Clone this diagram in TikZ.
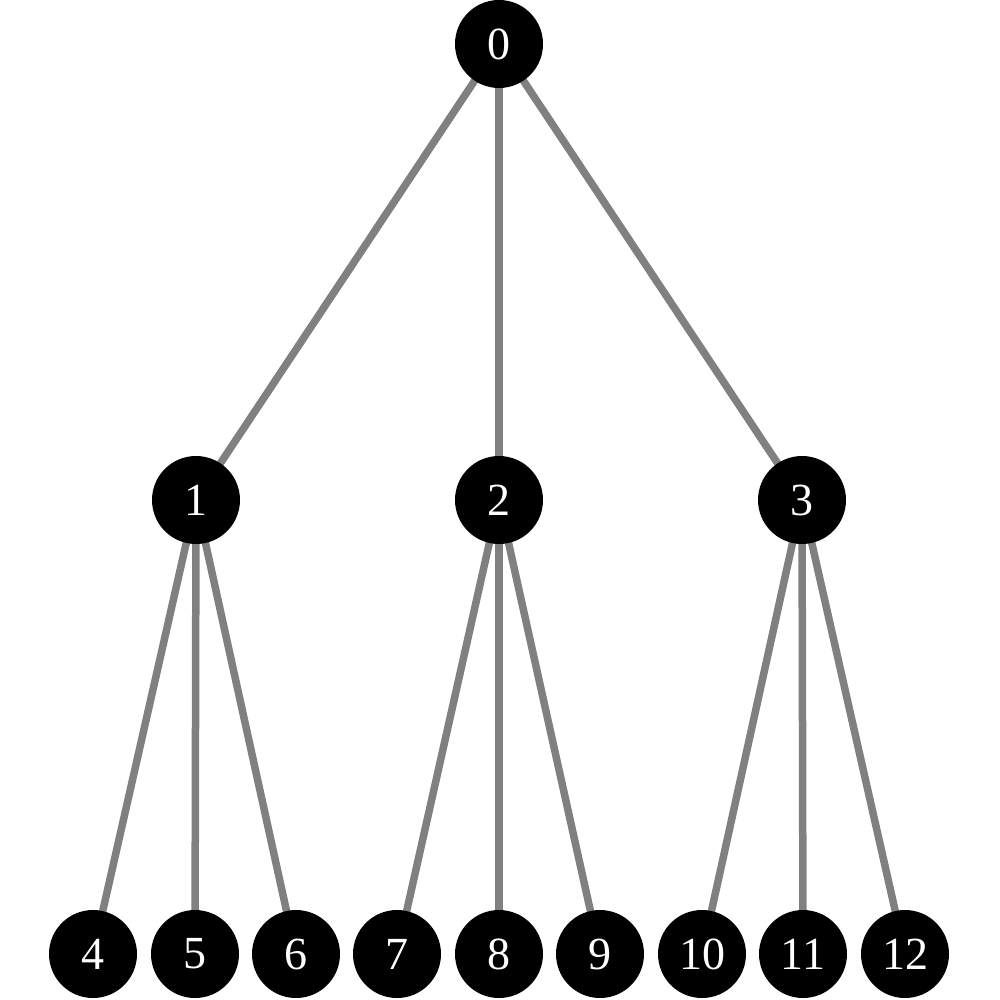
\documentclass[tikz,border=0pt]{standalone}
\usepackage{fontspec}
\setmainfont{Liberation Serif}
\usetikzlibrary{backgrounds}
\tikzset{
  vert/.style={circle,fill=black,minimum size=88pt,inner sep=0pt,text=white,font=\fontsize{46}{46}\selectfont},
  edge/.style={draw=black!50,line width=7.5pt}
}
\begin{document}
\begin{tikzpicture}[x=1pt,y=-1pt]
\useasboundingbox (0,0) rectangle (999,1000);
\node[vert] (n0) at (499,44) {0};
\node[vert] (n1) at (196,500) {1};
\node[vert] (n2) at (499,500) {2};
\node[vert] (n3) at (802,500) {3};
\node[vert] (n4) at (93,954) {4};
\node[vert] (n5) at (195,954) {5};
\node[vert] (n6) at (296,954) {6};
\node[vert] (n7) at (397,954) {7};
\node[vert] (n8) at (499,954) {8};
\node[vert] (n9) at (600,954) {9};
\node[vert] (n10) at (702,954) {10};
\node[vert] (n11) at (803,954) {11};
\node[vert] (n12) at (905,954) {12};
\begin{scope}[on background layer]
\draw[edge] (n0.center) -- (n1.center);
\draw[edge] (n0.center) -- (n2.center);
\draw[edge] (n0.center) -- (n3.center);
\draw[edge] (n1.center) -- (n4.center);
\draw[edge] (n1.center) -- (n5.center);
\draw[edge] (n1.center) -- (n6.center);
\draw[edge] (n2.center) -- (n7.center);
\draw[edge] (n2.center) -- (n8.center);
\draw[edge] (n2.center) -- (n9.center);
\draw[edge] (n3.center) -- (n10.center);
\draw[edge] (n3.center) -- (n11.center);
\draw[edge] (n3.center) -- (n12.center);
\end{scope}
\end{tikzpicture}
\end{document}
